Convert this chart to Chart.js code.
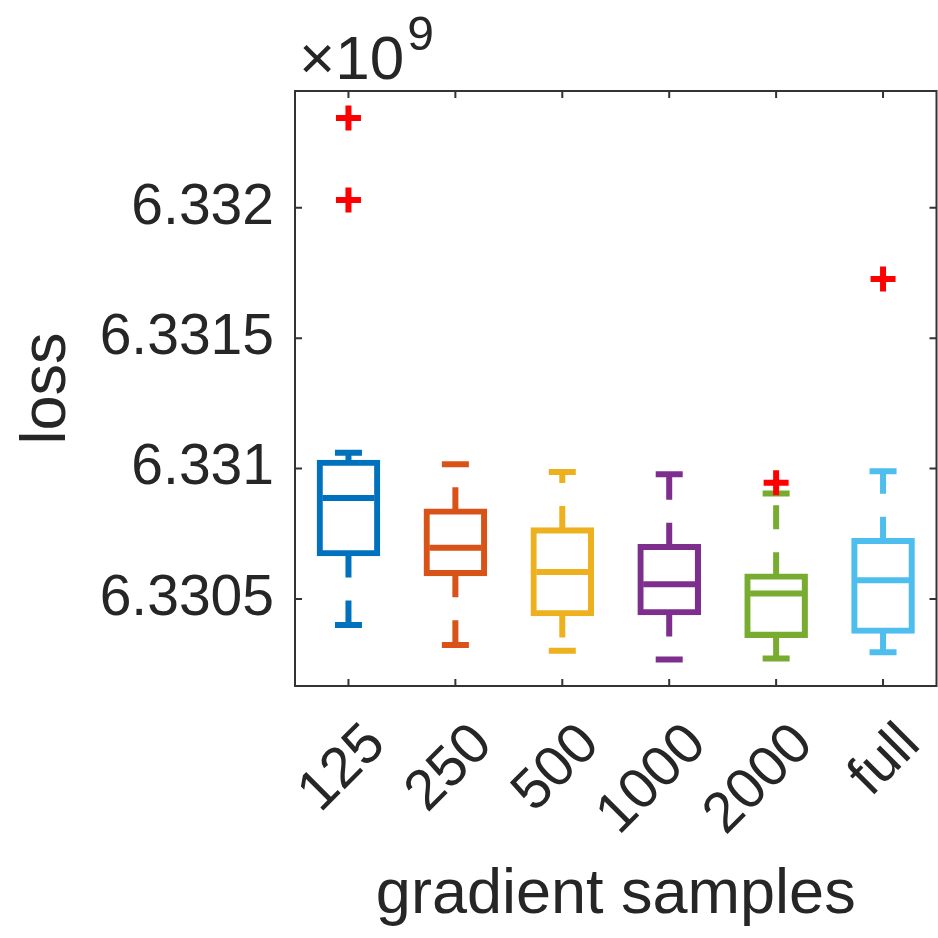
<!DOCTYPE html>
<html><head><meta charset="utf-8">
<script src="https://cdn.jsdelivr.net/npm/chart.js@4.4.1/dist/chart.umd.min.js"></script>
<style>html,body{margin:0;padding:0;background:#fff;} canvas{display:block;}</style>
</head><body>
<canvas id="c" width="938" height="938" style="width:938px;height:938px"></canvas>
<script>
const categories = ['125', '250', '500', '1000', '2000', 'full'];
const lowerWhisker = [6.330400, 6.330323, 6.330301, 6.330268, 6.330271, 6.330295];
const q1Values = [6.330674, 6.330598, 6.330444, 6.330448, 6.330361, 6.330377];
const medianValues = [6.330887, 6.330696, 6.330603, 6.330556, 6.330521, 6.330572];
const q3Values = [6.331023, 6.330836, 6.330764, 6.330700, 6.330587, 6.330723];
const upperWhisker = [6.331061, 6.331016, 6.330987, 6.330978, 6.330904, 6.330990];
const outlierCats = ['125', '125', '2000', 'full'];
const outlierValues = [6.332344, 6.332030, 6.330946, 6.331727];
const yTicks = [6.3305, 6.331, 6.3315, 6.332];
const yTickLabels = ['6.3305', '6.331', '6.3315', '6.332'];
const yMin = 6.330166, yMax = 6.332448;
const colors = ['#0072BD', '#D95319', '#EDB120', '#7E2F8E', '#77AC30', '#4DBEEE'];

const FONT = "'Liberation Sans', Arial, Helvetica, sans-serif";
const TXT = '#262626';

const datasets = [];
// outliers (first => drawn on top)
datasets.push({
  type: 'line', label: 'outliers', showLine: false,
  data: outlierCats.map((c, i) => ({x: c, y: outlierValues[i]})),
  pointStyle: 'cross', pointRadius: 12.5, pointBorderWidth: 6,
  pointBorderColor: '#FF0000', pointBackgroundColor: '#FF0000', pointHoverRadius: 12.5
});
// medians
datasets.push({
  type: 'line', label: 'median', showLine: false,
  data: categories.map((c, i) => ({x: c, y: medianValues[i]})),
  pointStyle: 'line', pointRadius: 26, pointBorderWidth: 6,
  pointBorderColor: colors, pointHoverRadius: 26
});
// caps
datasets.push({
  type: 'line', label: 'upper cap', showLine: false,
  data: categories.map((c, i) => ({x: c, y: upperWhisker[i]})),
  pointStyle: 'line', pointRadius: 13.5, pointBorderWidth: 6,
  pointBorderColor: colors, pointHoverRadius: 13.5
});
datasets.push({
  type: 'line', label: 'lower cap', showLine: false,
  data: categories.map((c, i) => ({x: c, y: lowerWhisker[i]})),
  pointStyle: 'line', pointRadius: 13.5, pointBorderWidth: 6,
  pointBorderColor: colors, pointHoverRadius: 13.5
});
// whiskers (dashed)
categories.forEach((c, i) => {
  [[q3Values[i], upperWhisker[i]], [q1Values[i], lowerWhisker[i]]].forEach(pair => {
    datasets.push({
      type: 'line', label: 'whisker',
      data: [{x: c, y: pair[0]}, {x: c, y: pair[1]}],
      borderColor: colors[i], borderWidth: 6, borderDash: [24, 23],
      borderCapStyle: 'butt', pointRadius: 0, pointHoverRadius: 0, fill: false
    });
  });
});
// boxes
datasets.push({
  type: 'bar', label: 'box',
  data: categories.map((c, i) => [q1Values[i], q3Values[i]]),
  backgroundColor: 'rgba(0,0,0,0)', borderColor: colors,
  borderWidth: 0.5, inflateAmount: 2.8, borderSkipped: false,
  barPercentage: 0.5425, categoryPercentage: 1
});

const framePlugin = {
  id: 'frame',
  afterDraw(chart) {
    const ctx = chart.ctx;
    const a = chart.chartArea;
    const xs = chart.scales.x, ys = chart.scales.y;
    ctx.save();
    ctx.strokeStyle = '#333333';
    ctx.lineWidth = 2;
    ctx.strokeRect(a.left, a.top, a.right - a.left, a.bottom - a.top);
    const tl = 7;
    ctx.beginPath();
    xs.ticks.forEach((t, i) => {
      const px = xs.getPixelForTick(i);
      ctx.moveTo(px, a.bottom); ctx.lineTo(px, a.bottom - tl);
      ctx.moveTo(px, a.top); ctx.lineTo(px, a.top + tl);
    });
    yTicks.forEach(v => {
      const py = ys.getPixelForValue(v);
      ctx.moveTo(a.left, py); ctx.lineTo(a.left + tl, py);
      ctx.moveTo(a.right, py); ctx.lineTo(a.right - tl, py);
    });
    ctx.stroke();
    // exponent label
    ctx.fillStyle = TXT;
    ctx.textBaseline = 'alphabetic';
    ctx.textAlign = 'left';
    ctx.font = '62px ' + FONT;
    ctx.fillText('\u00d710', 299, 79);
    const w = ctx.measureText('\u00d710').width;
    ctx.font = '48px ' + FONT;
    ctx.fillText('9', 299 + w + 3, 50);
    ctx.restore();
  }
};

new Chart(document.getElementById('c'), {
  data: {labels: categories, datasets},
  options: {
    responsive: false, animation: false, devicePixelRatio: 1,
    layout: {autoPadding: false, padding: {top: 91, right: 1.5, left: 0, bottom: 0}},
    plugins: {legend: {display: false}, tooltip: {enabled: false}},
    scales: {
      x: {
        type: 'category', offset: true,
        grid: {display: false, drawTicks: false},
        border: {display: false},
        ticks: {font: {size: 57, family: FONT}, color: TXT, minRotation: 45, maxRotation: 45, padding: 25, labelOffset: 28, autoSkip: false},
        title: {display: true, text: 'gradient samples', color: TXT, font: {size: 63, family: FONT, lineHeight: 1}, padding: {top: 0, bottom: 10.5}},
        afterFit(s) { s.height = 252; s.paddingLeft = 0; s.paddingRight = 0; }
      },
      y: {
        type: 'linear', min: yMin, max: yMax,
        grid: {display: false, drawTicks: false},
        border: {display: false},
        afterBuildTicks(s) { s.ticks = yTicks.map(v => ({value: v})); },
        ticks: {font: {size: 57, family: FONT}, color: TXT, padding: 21,
          callback: (v) => { const k = yTicks.findIndex(t => Math.abs(t - v) < 1e-9); return k >= 0 ? yTickLabels[k] : ''; }},
        title: {display: true, text: 'loss', color: TXT, font: {size: 63, family: FONT, lineHeight: 1}, padding: {top: 16, bottom: 0}},
        afterFit(s) { s.width = 295; s.paddingTop = 0; s.paddingBottom = 0; }
      }
    }
  },
  plugins: [framePlugin]
});
</script>
</body></html>
